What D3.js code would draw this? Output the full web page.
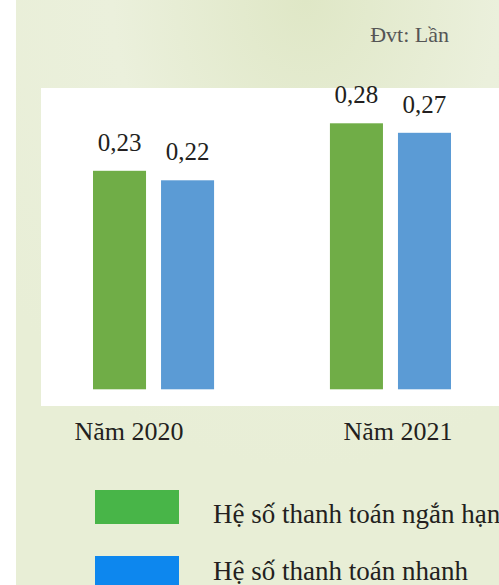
<!doctype html>
<html lang="vi">
<head>
<meta charset="UTF-8">
<title>Hệ số thanh toán</title>
<script src="https://d3js.org/d3.v7.min.js"></script>
<style>
  html, body { margin: 0; padding: 0; background: #fff; }
  svg { display: block; }
  text { font-family: "Liberation Serif", "Times New Roman", Times, serif; fill: #231f20; }
</style>
</head>
<body>
<svg id="chart" width="499" height="585"></svg>
<script>
// data
const years = ["Năm 2020", "Năm 2021"];
const series = ["Hệ số thanh toán ngắn hạn", "Hệ số thanh toán nhanh"];
const shortTerm = [0.23, 0.28];
const quick = [0.22, 0.27];
const unitLabel = "Đvt: Lần";

const BAR_COLORS = ["#70ad47", "#5b9bd5"];
const LEGEND_COLORS = ["#48b548", "#0d87ee"];

const svg = d3.select("#chart");

// background gradient
const defs = svg.append("defs");
const grad = defs.append("radialGradient").attr("id", "bg")
    .attr("cx", "0.6").attr("cy", "0.0").attr("r", "0.8");
grad.append("stop").attr("offset", "0").attr("stop-color", "#dfe7c6");
grad.append("stop").attr("offset", "0.5").attr("stop-color", "#ebf0dc");
grad.append("stop").attr("offset", "1").attr("stop-color", "#e8eed6");
svg.append("rect").attr("x", 16).attr("y", 0).attr("width", 483).attr("height", 585)
    .attr("fill", "url(#bg)");

// plot area
svg.append("rect").attr("x", 41).attr("y", 88).attr("width", 458).attr("height", 318)
    .attr("fill", "#ffffff");

svg.append("text").attr("x", 449).attr("y", 42).attr("text-anchor", "end")
    .style("font-size", "22px").style("fill", "#555555").text(unitLabel);

// scales
const x0 = d3.scaleBand().domain(years).range([93, 451]).paddingInner(0.489).paddingOuter(0);
const x1 = d3.scaleBand().domain(series).range([0, x0.bandwidth()]).paddingInner(0.2206);
const y = d3.scaleLinear().domain([0, 0.3]).range([389.3, 104.3]);
const labelX = d3.scalePoint().domain(years).range([129, 398]);

const rows = years.map((yr, i) => ({ year: yr, vals: [shortTerm[i], quick[i]] }));

const groups = svg.selectAll(".grp").data(rows).enter().append("g")
    .attr("class", "grp")
    .attr("transform", d => `translate(${x0(d.year)},0)`);

groups.selectAll("rect").data(d => d.vals.map((v, j) => ({ s: series[j], v: v, j: j })))
    .enter().append("rect")
    .attr("x", d => x1(d.s))
    .attr("y", d => y(d.v))
    .attr("width", x1.bandwidth())
    .attr("height", d => y(0) - y(d.v))
    .attr("fill", d => BAR_COLORS[d.j]);

groups.selectAll(".val").data(d => d.vals.map((v, j) => ({ s: series[j], v: v })))
    .enter().append("text")
    .attr("class", "val")
    .attr("x", d => x1(d.s) + x1.bandwidth() / 2)
    .attr("y", d => y(d.v) - 20)
    .attr("text-anchor", "middle")
    .style("font-size", "25px")
    .text(d => d.v.toFixed(2).replace(".", ","));

// category labels
svg.selectAll(".cat").data(years).enter().append("text")
    .attr("class", "cat")
    .attr("x", d => labelX(d))
    .attr("y", 440)
    .attr("text-anchor", "middle")
    .style("font-size", "26px")
    .text(d => d);

// legend (swatches and texts have different spacing in the original)
svg.selectAll(".leg-swatch").data(series).enter().append("rect")
    .attr("class", "leg-swatch")
    .attr("x", 95).attr("y", (d, i) => 490 + i * 66)
    .attr("width", 84).attr("height", 34)
    .attr("fill", (d, i) => LEGEND_COLORS[i]);
svg.selectAll(".leg-text").data(series).enter().append("text")
    .attr("class", "leg-text")
    .attr("x", 213).attr("y", (d, i) => 523 + i * 57)
    .style("font-size", "27px")
    .text(d => d);
</script>
</body>
</html>
